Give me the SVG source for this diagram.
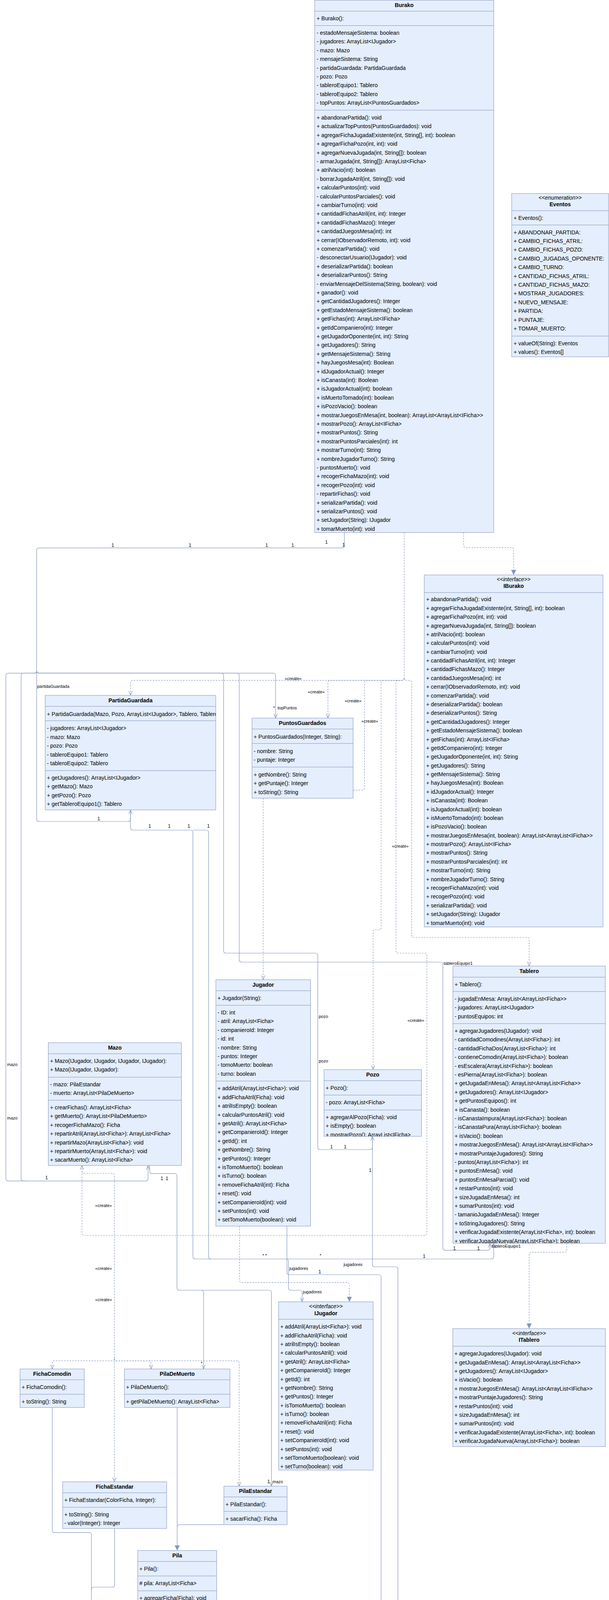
<svg xmlns="http://www.w3.org/2000/svg" width="1558" height="4984" viewBox="0 0 1558 4984">
<style>
.box{fill:#e4eefc;stroke:#7f92b8;stroke-width:1}
.sep{stroke:#7f92b8;stroke-width:1}
.t{font-family:"Liberation Sans",Arial,Helvetica,sans-serif;font-size:14px;fill:#000}
.h{font-weight:bold;text-anchor:middle}
.st{font-style:italic;text-anchor:middle}
.lab{font-family:"Liberation Sans",Arial,Helvetica,sans-serif;font-size:11px;fill:#000}
.n{font-family:"Liberation Sans",Arial,Helvetica,sans-serif;font-size:12px;fill:#000;text-anchor:middle}
.m{text-anchor:middle}
.e{fill:none;stroke:#8295bb;stroke-width:1.2}
.d{stroke-dasharray:4 3}
.oa{marker-end:url(#open)}
.ta{marker-end:url(#tri)}
</style>
<defs>
<marker id="open" viewBox="0 0 12 12" refX="11" refY="6" markerWidth="12" markerHeight="12" markerUnits="userSpaceOnUse" orient="auto"><path d="M0,1.5 L11,6 L0,10.5" fill="none" stroke="#8295bb" stroke-width="1.2"/></marker>
<marker id="tri" viewBox="0 0 14 14" refX="13" refY="7" markerWidth="14" markerHeight="14" markerUnits="userSpaceOnUse" orient="auto"><path d="M0,0.5 L13,7 L0,13.5 Z" fill="#8295bb"/></marker>
<clipPath id="cPG"><rect x="115.6" y="1780" width="436.4" height="293.3"/></clipPath>
<clipPath id="cPozo"><rect x="829" y="2738.2" width="249.3" height="170.8"/></clipPath>
<clipPath id="cTab"><rect x="1158.7" y="2473" width="390" height="709.8"/></clipPath>
</defs>
<rect width="1558" height="4984" fill="#ffffff"/>

<g id="connectors">
<path class="e oa" d="M881,1363.3 L881,1396.7 Q881,1402.7 875,1402.7 L99.7,1402.7 Q93.7,1402.7 93.7,1408.7 L93.7,2097 Q93.7,2103 99.7,2103 L327.8,2103 Q333.8,2103 333.8,2097 L333.8,2073.3"/>
<path class="e oa" d="M93.7,1717.3 Q93.7,1723.3 99.7,1723.3 L699,1723.3 Q705,1723.3 705,1729.3 L705,1838.3"/>
<path class="e oa" d="M93.7,1717.3 Q93.7,1723.3 99.7,1723.3 L566,1723.3 Q572,1723.3 572,1729.3 L572,2434 Q572,2440 578,2440 L807,2440 Q813,2440 813,2446 L813,2937 Q813,2943 819,2943 L946.7,2943 Q952.7,2943 952.7,2937 L952.7,2909"/>
<path class="e oa" d="M93.7,1717.3 Q93.7,1723.3 99.7,1723.3 L606,1723.3 Q612,1723.3 612,1729.3 L612,2457 Q612,2463 618,2463 L1127,2463 Q1133,2463 1133,2469 L1133,3194.6 Q1133,3200.6 1139,3200.6 L1247.3,3200.6 Q1253.3,3200.6 1253.3,3194.6 L1253.3,3182.8"/>
<path class="e oa" d="M93.7,1717.3 Q93.7,1723.3 87.7,1723.3 L21,1723.3 Q15,1723.3 15,1729.3 L15,3017.3 Q15,3023.3 21,3023.3 L372.7,3023.3 Q378.7,3023.3 378.7,3017.3 L378.7,2983.6"/>
<path class="e" d="M93.7,1717.3 Q93.7,1723.3 87.7,1723.3 L60,1723.3 Q54,1723.3 54,1729.3 L54,3017.3 Q54,3023.3 60,3023.3 L70,3023.3"/>
<path class="e oa" d="M333.8,2073.3 L333.8,2119 Q333.8,2125 339.8,2125 L487.5,2125 Q493.5,2125 493.5,2131 L493.5,3217 Q493.5,3223 499.5,3223 L1257,3223 Q1263,3223 1263,3217 L1263,3182.8"/>
<path class="e" d="M493.5,2125 L527.7,2125 Q533.7,2125 533.7,2131 L533.7,3217 Q533.7,3223 539.7,3223"/>
<path class="e oa" d="M732,3223 Q738,3223 738,3229 L738,3297 Q738,3303 744,3303 L767,3303 Q773,3303 773,3309 L773,3332.7"/>
<path class="e oa" d="M734,3138.9 L734,3257 Q734,3263 740,3263 L969,3263 Q975,3263 975,3269 L975,4497.7 Q975,4503.7 969,4503.7 L319.2,4503.7 Q313.2,4503.7 313.2,4509.7 L313.2,4516 Q313.2,4522 307.2,4522 L300.6,4522 Q294.6,4522 294.6,4516 L294.6,4483.5"/>
<path class="e" d="M952.7,2909 L952.7,3237 Q952.7,3243 958.7,3243 L1012,3243 Q1018,3243 1018,3249 L1018,4497.7 Q1018,4503.7 1012,4503.7 L975,4503.7"/>
<path class="e" d="M453.3,4123.3 L453.3,4137 Q453.3,4143 459.3,4143 L1007,4143 Q1013,4143 1013,4149 L1013,4503.7"/>
<path class="e oa" d="M294.6,4483.5 L294.6,4516 Q294.6,4522 300.6,4522 L307.2,4522 Q313.2,4522 313.2,4528 L313.2,4746.8"/>
<path class="e oa" d="M383,2983.6 L383,2998.4 Q383,3004.4 389,3004.4 L446.7,3004.4 Q452.7,3004.4 452.7,3010.4 L452.7,3297 Q452.7,3303 458.7,3303 L688.5,3303 Q694.5,3303 694.5,3309 L694.5,3804.6"/>
<path class="e oa" d="M514.8,3303 Q520.8,3303 520.8,3309 L520.8,3504.6"/>
<path class="e ta" d="M133.8,3603.2 L133.8,3917.3 Q133.8,3923.3 139.8,3923.3 L227.9,3923.3 Q233.9,3923.3 233.9,3929.3 L233.9,4212.8"/>
<path class="e" d="M293.3,3913 L293.3,4057 Q293.3,4063 287.3,4063 L239.9,4063 Q233.9,4063 233.9,4069"/>
<path class="e ta" d="M453.3,3603.2 L453.3,3969.3"/>
<path class="e" d="M572.7,3903.2 L459.3,3903.2 Q453.3,3903.2 453.3,3909.2"/>
<path class="e d ta" d="M1186,1363.3 L1186,1395.6 Q1186,1401.6 1192,1401.6 L1308,1401.6 Q1314,1401.6 1314,1407.6 L1314,1471.9"/>
<path class="e d ta" d="M1450,3182.8 L1450,3199.7 Q1450,3205.7 1444,3205.7 L1359.6,3205.7 Q1353.6,3205.7 1353.6,3211.7 L1353.6,3401.3"/>
<path class="e d ta" d="M612.8,3138.9 L612.8,3277.3 Q612.8,3283.3 618.8,3283.3 L887.8,3283.3 Q893.8,3283.3 893.8,3289.3 L893.8,3332.7"/>
<path class="e d ta" d="M173.2,4483.5 L173.2,4570.2"/>
<path class="e d oa" d="M1034,1363.3 L1034,1735.7 Q1034,1741.7 1028,1741.7 L340,1741.7 Q334,1741.7 334,1747.7 L334,1780"/>
<path class="e d oa" d="M1034,1735.7 Q1034,1741.7 1028,1741.7 L845,1741.7 Q839,1741.7 839,1747.7 L839,1838.3"/>
<path class="e d oa" d="M1034,1735.7 Q1034,1741.7 1028,1741.7 L938.6,1741.7 Q932.6,1741.7 932.6,1747.7 L932.6,2016.7 Q932.6,2022.7 926.6,2022.7 L679.4,2022.7 Q673.4,2022.7 673.4,2028.7 L673.4,2508"/>
<path class="e d oa" d="M1034,1735.7 Q1034,1741.7 1028,1741.7 L981,1741.7 Q975,1741.7 975,1747.7 L975,2374 Q975,2380 969,2380 L960.6,2380 Q954.6,2380 954.6,2386 L954.6,2738.2"/>
<path class="e d oa" d="M1034,1735.7 Q1034,1741.7 1040,1741.7 L1047,1741.7 Q1053,1741.7 1053,1747.7 L1053,2394 Q1053,2400 1059,2400 L1347.7,2400 Q1353.7,2400 1353.7,2406 L1353.7,2473"/>
<path class="e d oa" d="M1034,1735.7 Q1034,1741.7 1028,1741.7 L1019,1741.7 Q1013,1741.7 1013,1747.7 L1013,2434 Q1013,2440 1019,2440 L1086,2440 Q1092,2440 1092,2446 L1092,3156.5 Q1092,3162.5 1086,3162.5 L215.7,3162.5 Q209.7,3162.5 209.7,3156.5 L209.7,2983.6"/>
<path class="e d oa" d="M209.7,2983.6 L209.7,2997.5 Q209.7,3003.5 215.7,3003.5 L286.6,3003.5 Q292.6,3003.5 292.6,3009.5 L292.6,3477.6 Q292.6,3483.6 286.6,3483.6 L139.8,3483.6 Q133.8,3483.6 133.8,3489.6 L133.8,3504.6"/>
<path class="e d oa" d="M292.6,3477.6 Q292.6,3483.6 298.6,3483.6 L380.3,3483.6 Q386.3,3483.6 386.3,3489.6 L386.3,3504.6"/>
<path class="e d oa" d="M292.6,3477.6 Q292.6,3483.6 298.6,3483.6 L605.9,3483.6 Q611.9,3483.6 611.9,3489.6 L611.9,3804.6"/>
<path class="e d oa" d="M292.6,3483.6 L292.6,3793.4"/>
<text class="n" x="288.6" y="1400">1</text>
<text class="n" x="486" y="1400">1</text>
<text class="n" x="682.4" y="1400">1</text>
<text class="n" x="748.8" y="1400">1</text>
<text class="n" x="835" y="1392">1</text>
<text class="n" x="879" y="1399">1</text>
<text class="lab" x="95" y="1761">partidaGuardada</text>
<text class="n" x="252.5" y="2100">1</text>
<text class="lab" x="699" y="1816">*</text>
<text class="lab" x="710" y="1816">topPuntos</text>
<text class="n" x="383" y="2119">1</text>
<text class="n" x="433" y="2119">1</text>
<text class="n" x="483" y="2119">1</text>
<text class="n" x="533" y="2119">1</text>
<text class="lab m" x="750" y="1741">«create»</text>
<text class="lab m" x="809" y="1775">«create»</text>
<text class="lab m" x="903.4" y="1798">«create»</text>
<text class="lab m" x="946" y="1850">«create»</text>
<text class="lab m" x="1024" y="2170">«create»</text>
<text class="lab m" x="1064" y="2616">«create»</text>
<text class="lab m" x="265" y="3090">«create»</text>
<text class="lab m" x="265" y="3251">«create»</text>
<text class="lab m" x="265" y="3331">«create»</text>
<text class="lab" x="815.5" y="2606">pozo</text>
<text class="lab" x="815.5" y="2720">pozo</text>
<text class="n" x="848" y="2940">1</text>
<text class="n" x="883" y="2940">1</text>
<text class="n" x="947" y="3000">1</text>
<text class="n" x="119" y="3019">1</text>
<text class="n" x="414" y="3021">1</text>
<text class="n" x="427" y="3021">1</text>
<text class="lab" x="18" y="2729">mazo</text>
<text class="lab" x="18" y="2866">mazo</text>
<text class="lab" x="1135" y="2470">tableroEquipo1</text>
<text class="lab" x="1258" y="3194">tableroEquipo1</text>
<text class="n" x="1162.7" y="3200">1</text>
<text class="n" x="1224" y="3200">1</text>
<text class="lab m" x="677" y="3218">* *</text>
<text class="lab m" x="820" y="3218">*</text>
<text class="n" x="1085" y="3220">1</text>
<text class="lab" x="740" y="3251">jugadores</text>
<text class="lab" x="879" y="3241">jugadores</text>
<text class="n" x="818" y="3260">1</text>
<text class="lab" x="775" y="3311">jugadores</text>
<text class="lab m" x="516" y="3494">*</text>
<text class="n" x="687" y="3797">1</text>
<text class="lab" x="697" y="3797">mazo</text>
<text class="lab m" x="447.7" y="4137">*</text>
<text class="lab" x="455" y="4137">pila</text>
<text class="n" x="538.7" y="4139">1</text>
<text class="lab" x="297" y="4510">pozo</text>
<text class="lab m" x="407" y="4499">*</text>
<text class="lab m" x="463.2" y="4499">*</text>
<text class="lab m" x="405.4" y="4520">atril</text>
<text class="n" x="307" y="4552">1</text>
<text class="n" x="307" y="4738">1</text>
<text class="lab" x="316" y="4738">color</text>
</g>

<g id="Burako">
<rect class="box" x="805" y="0.5" width="458" height="1362.8"/>
<line class="sep" x1="805" y1="28.6" x2="1263" y2="28.6"/>
<line class="sep" x1="805" y1="65.5" x2="1263" y2="65.5"/>
<line class="sep" x1="805" y1="282" x2="1263" y2="282"/>
<text class="t h" x="1034" y="17.5">Burako</text>
<text class="t" x="810" y="52">+ Burako():</text>
<text class="t" x="810" y="88.7">- estadoMensajeSistema: boolean</text>
<text class="t" x="810" y="111.1">- jugadores: ArrayList&lt;IJugador&gt;</text>
<text class="t" x="810" y="133.6">- mazo: Mazo</text>
<text class="t" x="810" y="156">- mensajeSistema: String</text>
<text class="t" x="810" y="178.5">- partidaGuardada: PartidaGuardada</text>
<text class="t" x="810" y="200.9">- pozo: Pozo</text>
<text class="t" x="810" y="223.3">- tableroEquipo1: Tablero</text>
<text class="t" x="810" y="245.8">- tableroEquipo2: Tablero</text>
<text class="t" x="810" y="268.2">- topPuntos: ArrayList&lt;PuntosGuardados&gt;</text>
<text class="t" x="810" y="306">+ abandonarPartida(): void</text>
<text class="t" x="810" y="328.4">+ actualizarTopPuntos(PuntosGuardados): void</text>
<text class="t" x="810" y="350.8">+ agregarFichaJugadaExistente(int, String[], int): boolean</text>
<text class="t" x="810" y="373.2">+ agregarFichaPozo(int, int): void</text>
<text class="t" x="810" y="395.6">+ agregarNuevaJugada(int, String[]): boolean</text>
<text class="t" x="810" y="418">- armarJugada(int, String[]): ArrayList&lt;Ficha&gt;</text>
<text class="t" x="810" y="440.4">+ atrilVacio(int): boolean</text>
<text class="t" x="810" y="462.8">- borrarJugadaAtril(int, String[]): void</text>
<text class="t" x="810" y="485.2">+ calcularPuntos(int): void</text>
<text class="t" x="810" y="507.6">- calcularPuntosParciales(): void</text>
<text class="t" x="810" y="530">+ cambiarTurno(int): void</text>
<text class="t" x="810" y="552.4">+ cantidadFichasAtril(int, int): Integer</text>
<text class="t" x="810" y="574.8">+ cantidadFichasMazo(): Integer</text>
<text class="t" x="810" y="597.2">+ cantidadJuegosMesa(int): int</text>
<text class="t" x="810" y="619.6">+ cerrar(IObservadorRemoto, int): void</text>
<text class="t" x="810" y="642">+ comenzarPartida(): void</text>
<text class="t" x="810" y="664.4">- desconectarUsuario(IJugador): void</text>
<text class="t" x="810" y="686.8">+ deserializarPartida(): boolean</text>
<text class="t" x="810" y="709.2">+ deserializarPuntos(): String</text>
<text class="t" x="810" y="731.6">- enviarMensajeDelSistema(String, boolean): void</text>
<text class="t" x="810" y="754">+ ganador(): void</text>
<text class="t" x="810" y="776.4">+ getCantidadJugadores(): Integer</text>
<text class="t" x="810" y="798.8">+ getEstadoMensajeSistema(): boolean</text>
<text class="t" x="810" y="821.2">+ getFichas(int): ArrayList&lt;IFicha&gt;</text>
<text class="t" x="810" y="843.6">+ getIdCompaniero(int): Integer</text>
<text class="t" x="810" y="866">+ getJugadorOponente(int, int): String</text>
<text class="t" x="810" y="888.4">+ getJugadores(): String</text>
<text class="t" x="810" y="910.8">+ getMensajeSistema(): String</text>
<text class="t" x="810" y="933.2">+ hayJuegosMesa(int): Boolean</text>
<text class="t" x="810" y="955.6">+ idJugadorActual(): Integer</text>
<text class="t" x="810" y="978">+ isCanasta(int): Boolean</text>
<text class="t" x="810" y="1000.4">+ isJugadorActual(int): boolean</text>
<text class="t" x="810" y="1022.8">+ isMuertoTomado(int): boolean</text>
<text class="t" x="810" y="1045.2">+ isPozoVacio(): boolean</text>
<text class="t" x="810" y="1067.6">+ mostrarJuegosEnMesa(int, boolean): ArrayList&lt;ArrayList&lt;IFicha&gt;&gt;</text>
<text class="t" x="810" y="1090">+ mostrarPozo(): ArrayList&lt;IFicha&gt;</text>
<text class="t" x="810" y="1112.4">+ mostrarPuntos(): String</text>
<text class="t" x="810" y="1134.8">+ mostrarPuntosParciales(int): int</text>
<text class="t" x="810" y="1157.2">+ mostrarTurno(int): String</text>
<text class="t" x="810" y="1179.6">+ nombreJugadorTurno(): String</text>
<text class="t" x="810" y="1202">- puntosMuerto(): void</text>
<text class="t" x="810" y="1224.4">+ recogerFichaMazo(int): void</text>
<text class="t" x="810" y="1246.8">+ recogerPozo(int): void</text>
<text class="t" x="810" y="1269.2">- repartirFichas(): void</text>
<text class="t" x="810" y="1291.6">+ serializarPartida(): void</text>
<text class="t" x="810" y="1314">+ serializarPuntos(): void</text>
<text class="t" x="810" y="1336.4">+ setJugador(String): IJugador</text>
<text class="t" x="810" y="1358.8">+ tomarMuerto(int): void</text>
</g>

<g id="Eventos">
<rect class="box" x="1309" y="495.3" width="248" height="418.2"/>
<line class="sep" x1="1309" y1="539.4" x2="1557" y2="539.4"/>
<line class="sep" x1="1309" y1="576" x2="1557" y2="576"/>
<line class="sep" x1="1309" y1="860.3" x2="1557" y2="860.3"/>
<text class="t st" x="1433" y="510.7">&lt;&lt;enumeration&gt;&gt;</text>
<text class="t h" x="1433" y="528">Eventos</text>
<text class="t" x="1314" y="563.4">+ Eventos():</text>
<text class="t" x="1314" y="599.5">+ ABANDONAR_PARTIDA:</text>
<text class="t" x="1314" y="621.9">+ CAMBIO_FICHAS_ATRIL:</text>
<text class="t" x="1314" y="644.3">+ CAMBIO_FICHAS_POZO:</text>
<text class="t" x="1314" y="666.7">+ CAMBIO_JUGADAS_OPONENTE:</text>
<text class="t" x="1314" y="689.1">+ CAMBIO_TURNO:</text>
<text class="t" x="1314" y="711.5">+ CANTIDAD_FICHAS_ATRIL:</text>
<text class="t" x="1314" y="733.9">+ CANTIDAD_FICHAS_MAZO:</text>
<text class="t" x="1314" y="756.3">+ MOSTRAR_JUGADORES:</text>
<text class="t" x="1314" y="778.7">+ NUEVO_MENSAJE:</text>
<text class="t" x="1314" y="801.1">+ PARTIDA:</text>
<text class="t" x="1314" y="823.5">+ PUNTAJE:</text>
<text class="t" x="1314" y="845.9">+ TOMAR_MUERTO:</text>
<text class="t" x="1314" y="883.6">+ valueOf(String): Eventos</text>
<text class="t" x="1314" y="906">+ values(): Eventos[]</text>
</g>

<g id="IBurako">
<rect class="box" x="1085.3" y="1471.9" width="457.4" height="901.1"/>
<line class="sep" x1="1085.3" y1="1516.9" x2="1542.7" y2="1516.9"/>
<text class="t st" x="1314" y="1487.5">&lt;&lt;interface&gt;&gt;</text>
<text class="t h" x="1314" y="1505">IBurako</text>
<text class="t" x="1090.3" y="1539.4">+ abandonarPartida(): void</text>
<text class="t" x="1090.3" y="1561.8">+ agregarFichaJugadaExistente(int, String[], int): boolean</text>
<text class="t" x="1090.3" y="1584.2">+ agregarFichaPozo(int, int): void</text>
<text class="t" x="1090.3" y="1606.5">+ agregarNuevaJugada(int, String[]): boolean</text>
<text class="t" x="1090.3" y="1628.9">+ atrilVacio(int): boolean</text>
<text class="t" x="1090.3" y="1651.3">+ calcularPuntos(int): void</text>
<text class="t" x="1090.3" y="1673.7">+ cambiarTurno(int): void</text>
<text class="t" x="1090.3" y="1696.1">+ cantidadFichasAtril(int, int): Integer</text>
<text class="t" x="1090.3" y="1718.4">+ cantidadFichasMazo(): Integer</text>
<text class="t" x="1090.3" y="1740.8">+ cantidadJuegosMesa(int): int</text>
<text class="t" x="1090.3" y="1763.2">+ cerrar(IObservadorRemoto, int): void</text>
<text class="t" x="1090.3" y="1785.6">+ comenzarPartida(): void</text>
<text class="t" x="1090.3" y="1808">+ deserializarPartida(): boolean</text>
<text class="t" x="1090.3" y="1830.3">+ deserializarPuntos(): String</text>
<text class="t" x="1090.3" y="1852.7">+ getCantidadJugadores(): Integer</text>
<text class="t" x="1090.3" y="1875.1">+ getEstadoMensajeSistema(): boolean</text>
<text class="t" x="1090.3" y="1897.5">+ getFichas(int): ArrayList&lt;IFicha&gt;</text>
<text class="t" x="1090.3" y="1919.9">+ getIdCompaniero(int): Integer</text>
<text class="t" x="1090.3" y="1942.2">+ getJugadorOponente(int, int): String</text>
<text class="t" x="1090.3" y="1964.6">+ getJugadores(): String</text>
<text class="t" x="1090.3" y="1987">+ getMensajeSistema(): String</text>
<text class="t" x="1090.3" y="2009.4">+ hayJuegosMesa(int): Boolean</text>
<text class="t" x="1090.3" y="2031.8">+ idJugadorActual(): Integer</text>
<text class="t" x="1090.3" y="2054.1">+ isCanasta(int): Boolean</text>
<text class="t" x="1090.3" y="2076.5">+ isJugadorActual(int): boolean</text>
<text class="t" x="1090.3" y="2098.9">+ isMuertoTomado(int): boolean</text>
<text class="t" x="1090.3" y="2121.3">+ isPozoVacio(): boolean</text>
<text class="t" x="1090.3" y="2143.7">+ mostrarJuegosEnMesa(int, boolean): ArrayList&lt;ArrayList&lt;IFicha&gt;&gt;</text>
<text class="t" x="1090.3" y="2166">+ mostrarPozo(): ArrayList&lt;IFicha&gt;</text>
<text class="t" x="1090.3" y="2188.4">+ mostrarPuntos(): String</text>
<text class="t" x="1090.3" y="2210.8">+ mostrarPuntosParciales(int): int</text>
<text class="t" x="1090.3" y="2233.2">+ mostrarTurno(int): String</text>
<text class="t" x="1090.3" y="2255.6">+ nombreJugadorTurno(): String</text>
<text class="t" x="1090.3" y="2277.9">+ recogerFichaMazo(int): void</text>
<text class="t" x="1090.3" y="2300.3">+ recogerPozo(int): void</text>
<text class="t" x="1090.3" y="2322.7">+ serializarPartida(): void</text>
<text class="t" x="1090.3" y="2345.1">+ setJugador(String): IJugador</text>
<text class="t" x="1090.3" y="2367.5">+ tomarMuerto(int): void</text>
</g>

<g id="PartidaGuardada">
<rect class="box" x="115.6" y="1780" width="436.4" height="293.3"/>
<line class="sep" x1="115.6" y1="1808.3" x2="552" y2="1808.3"/>
<line class="sep" x1="115.6" y1="1845" x2="552" y2="1845"/>
<line class="sep" x1="115.6" y1="1972.7" x2="552" y2="1972.7"/>
<g clip-path="url(#cPG)">
<text class="t h" x="333.8" y="1797.5">PartidaGuardada</text>
<text class="t" x="120" y="1832.7">+ PartidaGuardada(Mazo, Pozo, ArrayList&lt;IJugador&gt;, Tablero, Tablero):</text>
<text class="t" x="120" y="1869.3">- jugadores: ArrayList&lt;IJugador&gt;</text>
<text class="t" x="120" y="1891.8">- mazo: Mazo</text>
<text class="t" x="120" y="1914.3">- pozo: Pozo</text>
<text class="t" x="120" y="1936.8">- tableroEquipo1: Tablero</text>
<text class="t" x="120" y="1959.3">- tableroEquipo2: Tablero</text>
<text class="t" x="120" y="1996">+ getJugadores(): ArrayList&lt;IJugador&gt;</text>
<text class="t" x="120" y="2018.4">+ getMazo(): Mazo</text>
<text class="t" x="120" y="2040.8">+ getPozo(): Pozo</text>
<text class="t" x="120" y="2063.2">+ getTableroEquipo1(): Tablero</text>
</g>
</g>

<g id="PuntosGuardados">
<rect class="box" x="644.7" y="1838.3" width="258.7" height="205"/>
<line class="sep" x1="644.7" y1="1866.3" x2="903.4" y2="1866.3"/>
<line class="sep" x1="644.7" y1="1903.3" x2="903.4" y2="1903.3"/>
<line class="sep" x1="644.7" y1="1963.7" x2="903.4" y2="1963.7"/>
<text class="t h" x="774" y="1855.8">PuntosGuardados</text>
<text class="t" x="649" y="1890.7">+ PuntosGuardados(Integer, String):</text>
<text class="t" x="649" y="1927.7">- nombre: String</text>
<text class="t" x="649" y="1950.1">- puntaje: Integer</text>
<text class="t" x="649" y="1987.7">+ getNombre(): String</text>
<text class="t" x="649" y="2010.1">+ getPuntaje(): Integer</text>
<text class="t" x="649" y="2032.5">+ toString(): String</text>
</g>

<g id="Tablero">
<rect class="box" x="1158.7" y="2473" width="390" height="709.8"/>
<line class="sep" x1="1158.7" y1="2501.6" x2="1548.7" y2="2501.6"/>
<line class="sep" x1="1158.7" y1="2538.4" x2="1548.7" y2="2538.4"/>
<line class="sep" x1="1158.7" y1="2620.5" x2="1548.7" y2="2620.5"/>
<g clip-path="url(#cTab)">
<text class="t h" x="1353.7" y="2490.5">Tablero</text>
<text class="t" x="1163" y="2525">+ Tablero():</text>
<text class="t" x="1163" y="2561.7">- jugadaEnMesa: ArrayList&lt;ArrayList&lt;Ficha&gt;&gt;</text>
<text class="t" x="1163" y="2584.1">- jugadores: ArrayList&lt;IJugador&gt;</text>
<text class="t" x="1163" y="2606.5">- puntosEquipos: int</text>
<text class="t" x="1163" y="2643.9">+ agregarJugadores(IJugador): void</text>
<text class="t" x="1163" y="2666.3">- cantidadComodines(ArrayList&lt;Ficha&gt;): int</text>
<text class="t" x="1163" y="2688.7">- cantidadFichaDos(ArrayList&lt;Ficha&gt;): int</text>
<text class="t" x="1163" y="2711.1">- contieneComodin(ArrayList&lt;Ficha&gt;): boolean</text>
<text class="t" x="1163" y="2733.5">- esEscalera(ArrayList&lt;Ficha&gt;): boolean</text>
<text class="t" x="1163" y="2755.9">- esPierna(ArrayList&lt;Ficha&gt;): boolean</text>
<text class="t" x="1163" y="2778.3">+ getJugadaEnMesa(): ArrayList&lt;ArrayList&lt;Ficha&gt;&gt;</text>
<text class="t" x="1163" y="2800.7">+ getJugadores(): ArrayList&lt;IJugador&gt;</text>
<text class="t" x="1163" y="2823.1">+ getPuntosEquipos(): int</text>
<text class="t" x="1163" y="2845.5">+ isCanasta(): boolean</text>
<text class="t" x="1163" y="2867.9">- isCanastaImpura(ArrayList&lt;Ficha&gt;): boolean</text>
<text class="t" x="1163" y="2890.3">- isCanastaPura(ArrayList&lt;Ficha&gt;): boolean</text>
<text class="t" x="1163" y="2912.7">+ isVacio(): boolean</text>
<text class="t" x="1163" y="2935.1">+ mostrarJuegosEnMesa(): ArrayList&lt;ArrayList&lt;IFicha&gt;&gt;</text>
<text class="t" x="1163" y="2957.5">+ mostrarPuntajeJugadores(): String</text>
<text class="t" x="1163" y="2979.9">- puntos(ArrayList&lt;Ficha&gt;): int</text>
<text class="t" x="1163" y="3002.3">+ puntosEnMesa(): void</text>
<text class="t" x="1163" y="3024.7">+ puntosEnMesaParcial(): void</text>
<text class="t" x="1163" y="3047.1">+ restarPuntos(int): void</text>
<text class="t" x="1163" y="3069.5">+ sizeJugadaEnMesa(): int</text>
<text class="t" x="1163" y="3091.9">+ sumarPuntos(int): void</text>
<text class="t" x="1163" y="3114.3">- tamanioJugadaEnMesa(): Integer</text>
<text class="t" x="1163" y="3136.7">+ toStringJugadores(): String</text>
<text class="t" x="1163" y="3159.1">+ verificarJugadaExistente(ArrayList&lt;Ficha&gt;, int): boolean</text>
<text class="t" x="1163" y="3181.5">+ verificarJugadaNueva(ArrayList&lt;Ficha&gt;): boolean</text>
</g>
</g>

<g id="ITablero">
<rect class="box" x="1158.4" y="3401.3" width="390.4" height="302"/>
<line class="sep" x1="1158.4" y1="3446.3" x2="1548.8" y2="3446.3"/>
<text class="t st" x="1353.6" y="3418.3">&lt;&lt;interface&gt;&gt;</text>
<text class="t h" x="1353.6" y="3435">ITablero</text>
<text class="t" x="1162.5" y="3470.3">+ agregarJugadores(IJugador): void</text>
<text class="t" x="1162.5" y="3492.7">+ getJugadaEnMesa(): ArrayList&lt;ArrayList&lt;Ficha&gt;&gt;</text>
<text class="t" x="1162.5" y="3515">+ getJugadores(): ArrayList&lt;IJugador&gt;</text>
<text class="t" x="1162.5" y="3537.4">+ isVacio(): boolean</text>
<text class="t" x="1162.5" y="3559.8">+ mostrarJuegosEnMesa(): ArrayList&lt;ArrayList&lt;IFicha&gt;&gt;</text>
<text class="t" x="1162.5" y="3582.2">+ mostrarPuntajeJugadores(): String</text>
<text class="t" x="1162.5" y="3604.5">+ restarPuntos(int): void</text>
<text class="t" x="1162.5" y="3626.9">+ sizeJugadaEnMesa(): int</text>
<text class="t" x="1162.5" y="3649.3">+ sumarPuntos(int): void</text>
<text class="t" x="1162.5" y="3671.6">+ verificarJugadaExistente(ArrayList&lt;Ficha&gt;, int): boolean</text>
<text class="t" x="1162.5" y="3694">+ verificarJugadaNueva(ArrayList&lt;Ficha&gt;): boolean</text>
</g>

<g id="Jugador">
<rect class="box" x="552.2" y="2508" width="242.3" height="630.9"/>
<line class="sep" x1="552.2" y1="2536.2" x2="794.5" y2="2536.2"/>
<line class="sep" x1="552.2" y1="2573.5" x2="794.5" y2="2573.5"/>
<line class="sep" x1="552.2" y1="2767.5" x2="794.5" y2="2767.5"/>
<text class="t h" x="673.3" y="2525.5">Jugador</text>
<text class="t" x="556.5" y="2560.1">+ Jugador(String):</text>
<text class="t" x="556.5" y="2597">- ID: int</text>
<text class="t" x="556.5" y="2619.4">- atril: ArrayList&lt;Ficha&gt;</text>
<text class="t" x="556.5" y="2641.8">- companieroId: Integer</text>
<text class="t" x="556.5" y="2664.2">- id: int</text>
<text class="t" x="556.5" y="2686.6">- nombre: String</text>
<text class="t" x="556.5" y="2709">- puntos: Integer</text>
<text class="t" x="556.5" y="2731.4">- tomoMuerto: boolean</text>
<text class="t" x="556.5" y="2753.8">- turno: boolean</text>
<text class="t" x="556.5" y="2791.4">+ addAtril(ArrayList&lt;Ficha&gt;): void</text>
<text class="t" x="556.5" y="2813.8">+ addFichaAtril(Ficha): void</text>
<text class="t" x="556.5" y="2836.2">+ atrilIsEmpty(): boolean</text>
<text class="t" x="556.5" y="2858.6">+ calcularPuntosAtril(): void</text>
<text class="t" x="556.5" y="2881">+ getAtril(): ArrayList&lt;Ficha&gt;</text>
<text class="t" x="556.5" y="2903.4">+ getCompanieroId(): Integer</text>
<text class="t" x="556.5" y="2925.8">+ getId(): int</text>
<text class="t" x="556.5" y="2948.2">+ getNombre(): String</text>
<text class="t" x="556.5" y="2970.6">+ getPuntos(): Integer</text>
<text class="t" x="556.5" y="2993">+ isTomoMuerto(): boolean</text>
<text class="t" x="556.5" y="3015.4">+ isTurno(): boolean</text>
<text class="t" x="556.5" y="3037.8">+ removeFichaAtril(int): Ficha</text>
<text class="t" x="556.5" y="3060.2">+ reset(): void</text>
<text class="t" x="556.5" y="3082.6">+ setCompanieroId(int): void</text>
<text class="t" x="556.5" y="3105">+ setPuntos(int): void</text>
<text class="t" x="556.5" y="3127.4">+ setTomoMuerto(boolean): void</text>
</g>

<g id="Pozo">
<rect class="box" x="829" y="2738.2" width="249.3" height="170.8"/>
<line class="sep" x1="829" y1="2766.5" x2="1078.3" y2="2766.5"/>
<line class="sep" x1="829" y1="2803.4" x2="1078.3" y2="2803.4"/>
<line class="sep" x1="829" y1="2841.6" x2="1078.3" y2="2841.6"/>
<g clip-path="url(#cPozo)">
<text class="t h" x="953.6" y="2755.7">Pozo</text>
<text class="t" x="833.3" y="2790.4">+ Pozo():</text>
<text class="t" x="833.3" y="2827.2">- pozo: ArrayList&lt;Ficha&gt;</text>
<text class="t" x="833.3" y="2865">+ agregarAlPozo(Ficha): void</text>
<text class="t" x="833.3" y="2887.4">+ isEmpty(): boolean</text>
<text class="t" x="833.3" y="2909.6">+ mostrarPozo(): ArrayList&lt;IFicha&gt;</text>
</g>
</g>

<g id="Mazo">
<rect class="box" x="123.6" y="2669.3" width="340.6" height="314.3"/>
<line class="sep" x1="123.6" y1="2697.6" x2="464.2" y2="2697.6"/>
<line class="sep" x1="123.6" y1="2757.6" x2="464.2" y2="2757.6"/>
<line class="sep" x1="123.6" y1="2816.6" x2="464.2" y2="2816.6"/>
<text class="t h" x="293.9" y="2686.8">Mazo</text>
<text class="t" x="128" y="2721">+ Mazo(IJugador, IJugador, IJugador, IJugador):</text>
<text class="t" x="128" y="2743.4">+ Mazo(IJugador, IJugador):</text>
<text class="t" x="128" y="2781">- mazo: PilaEstandar</text>
<text class="t" x="128" y="2803.4">- muerto: ArrayList&lt;PilaDeMuerto&gt;</text>
<text class="t" x="128" y="2840">+ crearFichas(): ArrayList&lt;Ficha&gt;</text>
<text class="t" x="128" y="2862.4">+ getMuerto(): ArrayList&lt;PilaDeMuerto&gt;</text>
<text class="t" x="128" y="2884.8">+ recogerFichaMazo(): Ficha</text>
<text class="t" x="128" y="2907.2">+ repartirAtril(ArrayList&lt;Ficha&gt;): ArrayList&lt;Ficha&gt;</text>
<text class="t" x="128" y="2929.6">+ repartirMazo(ArrayList&lt;Ficha&gt;): void</text>
<text class="t" x="128" y="2952">+ repartirMuerto(ArrayList&lt;Ficha&gt;): void</text>
<text class="t" x="128" y="2974.4">+ sacarMuerto(): ArrayList&lt;Ficha&gt;</text>
</g>

<g id="IJugador">
<rect class="box" x="712.7" y="3332.7" width="242" height="430.6"/>
<line class="sep" x1="712.7" y1="3377.3" x2="954.7" y2="3377.3"/>
<text class="t st" x="833.7" y="3349.3">&lt;&lt;interface&gt;&gt;</text>
<text class="t h" x="833.7" y="3366.7">IJugador</text>
<text class="t" x="717" y="3401.3">+ addAtril(ArrayList&lt;Ficha&gt;): void</text>
<text class="t" x="717" y="3423.7">+ addFichaAtril(Ficha): void</text>
<text class="t" x="717" y="3446.1">+ atrilIsEmpty(): boolean</text>
<text class="t" x="717" y="3468.4">+ calcularPuntosAtril(): void</text>
<text class="t" x="717" y="3490.8">+ getAtril(): ArrayList&lt;Ficha&gt;</text>
<text class="t" x="717" y="3513.2">+ getCompanieroId(): Integer</text>
<text class="t" x="717" y="3535.6">+ getId(): int</text>
<text class="t" x="717" y="3557.9">+ getNombre(): String</text>
<text class="t" x="717" y="3580.3">+ getPuntos(): Integer</text>
<text class="t" x="717" y="3602.7">+ isTomoMuerto(): boolean</text>
<text class="t" x="717" y="3625.1">+ isTurno(): boolean</text>
<text class="t" x="717" y="3647.4">+ removeFichaAtril(int): Ficha</text>
<text class="t" x="717" y="3669.8">+ reset(): void</text>
<text class="t" x="717" y="3692.2">+ setCompanieroId(int): void</text>
<text class="t" x="717" y="3714.6">+ setPuntos(int): void</text>
<text class="t" x="717" y="3736.9">+ setTomoMuerto(boolean): void</text>
<text class="t" x="717" y="3759.3">+ setTurno(boolean): void</text>
</g>

<g id="FichaComodin">
<rect class="box" x="51.2" y="3504.6" width="164.3" height="98.6"/>
<line class="sep" x1="51.2" y1="3532.2" x2="215.5" y2="3532.2"/>
<line class="sep" x1="51.2" y1="3569.3" x2="215.5" y2="3569.3"/>
<text class="t h" x="133.3" y="3521.8">FichaComodin</text>
<text class="t" x="55.5" y="3556">+ FichaComodin():</text>
<text class="t" x="55.5" y="3593">+ toString(): String</text>
</g>

<g id="PilaDeMuerto">
<rect class="box" x="318.3" y="3504.6" width="270" height="98.6"/>
<line class="sep" x1="318.3" y1="3532.2" x2="588.3" y2="3532.2"/>
<line class="sep" x1="318.3" y1="3569.3" x2="588.3" y2="3569.3"/>
<text class="t h" x="453.3" y="3521.8">PilaDeMuerto</text>
<text class="t" x="322.5" y="3556">+ PilaDeMuerto():</text>
<text class="t" x="322.5" y="3593">+ getPilaDeMuerto(): ArrayList&lt;Ficha&gt;</text>
</g>

<g id="FichaEstandar">
<rect class="box" x="160.3" y="3793.4" width="266.1" height="119.6"/>
<line class="sep" x1="160.3" y1="3821.5" x2="426.4" y2="3821.5"/>
<line class="sep" x1="160.3" y1="3858.6" x2="426.4" y2="3858.6"/>
<text class="t h" x="293.3" y="3810.6">FichaEstandar</text>
<text class="t" x="164.5" y="3845.3">+ FichaEstandar(ColorFicha, Integer):</text>
<text class="t" x="164.5" y="3881.9">+ toString(): String</text>
<text class="t" x="164.5" y="3904.3">- valor(Integer): Integer</text>
</g>

<g id="PilaEstandar">
<rect class="box" x="572.7" y="3804.6" width="161.9" height="98.6"/>
<line class="sep" x1="572.7" y1="3832.2" x2="734.6" y2="3832.2"/>
<line class="sep" x1="572.7" y1="3869.3" x2="734.6" y2="3869.3"/>
<text class="t h" x="653.6" y="3821.8">PilaEstandar</text>
<text class="t" x="577" y="3856">+ PilaEstandar():</text>
<text class="t" x="577" y="3893">+ sacarFicha(): Ficha</text>
</g>

<g id="Pila">
<rect class="box" x="352.3" y="3969.3" width="202" height="154"/>
<line class="sep" x1="352.3" y1="3997.4" x2="554.3" y2="3997.4"/>
<line class="sep" x1="352.3" y1="4034.5" x2="554.3" y2="4034.5"/>
<line class="sep" x1="352.3" y1="4072.4" x2="554.3" y2="4072.4"/>
<text class="t h" x="453.3" y="3986.6">Pila</text>
<text class="t" x="356.5" y="4020.7">+ Pila():</text>
<text class="t" x="356.5" y="4057.8"># pila: ArrayList&lt;Ficha&gt;</text>
<text class="t" x="356.5" y="4095.7">+ agregarFicha(Ficha): void</text>
<text class="t" x="356.5" y="4118">+ isEmpty(): boolean</text>
</g>

<g id="Ficha">
<rect class="box" x="111.4" y="4212.8" width="245" height="270.7"/>
<line class="sep" x1="111.4" y1="4240.4" x2="356.4" y2="4240.4"/>
<line class="sep" x1="111.4" y1="4277.7" x2="356.4" y2="4277.7"/>
<line class="sep" x1="111.4" y1="4382.4" x2="356.4" y2="4382.4"/>
<text class="t h" x="233.9" y="4230">Ficha</text>
<text class="t" x="115.7" y="4264">+ Ficha():</text>
<text class="t" x="115.7" y="4300.7"># color: ColorFicha</text>
<text class="t" x="115.7" y="4323.1"># numeroFicha: Integer</text>
<text class="t" x="115.7" y="4345.5"># numeroJugada: Integer</text>
<text class="t" x="115.7" y="4367.9"># valorFicha: Integer</text>
<text class="t" x="115.7" y="4405.5">+ getColor(): ColorFicha</text>
<text class="t" x="115.7" y="4427.9">+ getNumeroFicha(): Integer</text>
<text class="t" x="115.7" y="4450.3">+ getNumeroJugada(): Integer</text>
<text class="t" x="115.7" y="4472.7">+ getValorFicha(): Integer</text>
</g>

<g id="IFicha">
<rect class="box" x="64.3" y="4570.2" width="218.9" height="162.8"/>
<line class="sep" x1="64.3" y1="4615.4" x2="283.2" y2="4615.4"/>
<text class="t st" x="173.75" y="4586.9">&lt;&lt;interface&gt;&gt;</text>
<text class="t h" x="173.75" y="4604.5">IFicha</text>
<text class="t" x="68.5" y="4638.5">+ getColor(): ColorFicha</text>
<text class="t" x="68.5" y="4660.9">+ getNumeroFicha(): Integer</text>
<text class="t" x="68.5" y="4683.2">+ getNumeroJugada(): Integer</text>
<text class="t" x="68.5" y="4705.6">+ getValorFicha(): Integer</text>
<text class="t" x="68.5" y="4727.9">+ toString(): String</text>
</g>

<g id="ColorFicha">
<rect class="box" x="207.5" y="4746.8" width="211.8" height="236"/>
<line class="sep" x1="207.5" y1="4791.5" x2="419.3" y2="4791.5"/>
<line class="sep" x1="207.5" y1="4828.7" x2="419.3" y2="4828.7"/>
<line class="sep" x1="207.5" y1="4933.5" x2="419.3" y2="4933.5"/>
<text class="t st" x="313.4" y="4762.4">&lt;&lt;enumeration&gt;&gt;</text>
<text class="t h" x="313.4" y="4780">ColorFicha</text>
<text class="t" x="212" y="4814.6">+ ColorFicha():</text>
<text class="t" x="212" y="4851.8">+ AMARILLO:</text>
<text class="t" x="212" y="4874.2">+ AZUL:</text>
<text class="t" x="212" y="4896.6">+ NEGRO:</text>
<text class="t" x="212" y="4919">+ ROJO:</text>
<text class="t" x="212" y="4956.6">+ valueOf(String): ColorFicha</text>
<text class="t" x="212" y="4979">+ values(): ColorFicha[]</text>
</g>
</svg>
